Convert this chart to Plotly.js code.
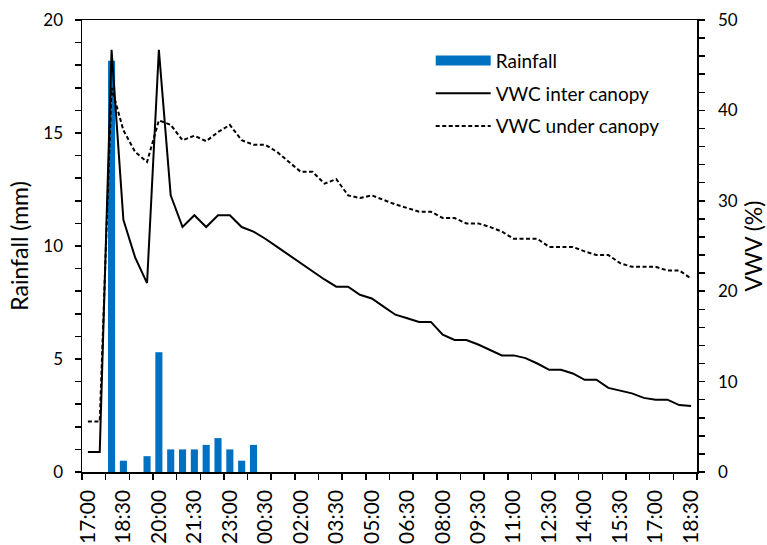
<!DOCTYPE html>
<html>
<head>
<meta charset="utf-8">
<script src="https://cdn.plot.ly/plotly-3.0.1.min.js"></script>
<style>html,body{margin:0;padding:0;background:#fff;}#chart{width:767px;height:545px;}</style>
</head>
<body>
<div id="chart"></div>
<script>
const times = ["17:00","17:30","18:00","18:30","19:00","19:30","20:00","20:30","21:00","21:30","22:00","22:30","23:00","23:30",
  "00:00","00:30","01:00","01:30","02:00","02:30","03:00","03:30","04:00","04:30","05:00","05:30","06:00","06:30",
  "07:00","07:30","08:00","08:30","09:00","09:30","10:00","10:30","11:00","11:30","12:00","12:30","13:00","13:30",
  "14:00","14:30","15:00","15:30","16:00","16:30","17:00","17:30","18:00","18:30"];

const rainfall = [0,0,18.2,0.5,0,0.7,5.3,1.0,1.0,1.0,1.2,1.5,1.0,0.5,1.2,
  0,0,0,0,0,0,0,0,0,0,0,0,0,0,0,0,0,0,0,0,0,0,0,0,0,0,0,0,0,0,0,0,0,0,0,0,0];

const vwcInter = [2.2,2.2,46.7,27.9,23.7,20.9,46.7,30.6,27.1,28.4,27.1,28.4,28.4,27.1,26.6,
  25.8,24.9,24.0,23.1,22.2,21.3,20.5,20.5,19.6,19.2,18.3,17.4,17.0,16.6,16.6,
  15.2,14.6,14.6,14.1,13.5,12.9,12.9,12.6,12.0,11.3,11.3,10.9,10.2,10.2,9.3,
  9.0,8.7,8.2,8.0,8.0,7.4,7.3];

const vwcUnder = [5.6,5.6,42.5,37.8,35.4,34.3,38.9,38.4,36.7,37.2,36.6,37.6,38.4,36.7,36.2,
  36.2,35.4,34.3,33.2,33.2,31.9,32.4,30.6,30.3,30.6,30.1,29.6,29.2,28.8,28.8,
  28.1,28.1,27.5,27.5,27.1,26.6,25.8,25.8,25.8,24.9,24.9,24.9,24.4,24.0,24.0,
  23.1,22.7,22.7,22.7,22.3,22.3,21.4];

// axis tick values (labels shown only on the major ones)
const rainTicks = [0,1,2,3,4,5,6,7,8,9,10,11,12,13,14,15,16,17,18,19,20];
const rainLabels = rainTicks.map(v => (v % 5 === 0 ? String(v) : ''));
const vwcTicks = [0,2,4,6,8,10,12,14,16,18,20,22,24,26,28,30,32,34,36,38,40,42,44,46,48,50];
const vwcLabels = vwcTicks.map(v => (v % 10 === 0 ? String(v) : ''));

const idx = times.map((t, i) => i);
const labelIdx = idx.filter(i => i % 3 === 0);
const labelText = labelIdx.map(i => times[i]);

const FONT = 'Lato, "Open Sans", sans-serif';

const traces = [
  {type: 'bar', x: idx, y: rainfall, name: 'Rainfall', marker: {color: '#0070C0'}, width: 0.6,
   showlegend: false, xaxis: 'x', yaxis: 'y', hoverinfo: 'skip'},
  {type: 'scatter', mode: 'lines', x: [null], y: [null], name: 'Rainfall', legendgroup: 'a',
   line: {color: '#0070C0', width: 10}, xaxis: 'x', yaxis: 'y'},
  {type: 'scatter', mode: 'lines', x: idx, y: vwcInter, name: 'VWC inter canopy', legendgroup: 'b',
   line: {color: '#000000', width: 2}, xaxis: 'x', yaxis: 'y2'},
  {type: 'scatter', mode: 'lines', x: idx, y: vwcUnder, name: 'VWC under canopy', legendgroup: 'c',
   line: {color: '#000000', width: 2, dash: '4px,2.5px'}, xaxis: 'x', yaxis: 'y2'}
];

const layout = {
  width: 767, height: 545,
  margin: {l: 82, r: 70, t: 20, b: 73},
  paper_bgcolor: '#ffffff', plot_bgcolor: '#ffffff',
  font: {family: FONT, color: '#000000', size: 16},
  showlegend: true,
  legend: {x: 0.567, y: 0.952, xanchor: 'left', yanchor: 'top', font: {size: 19, family: FONT},
    itemwidth: 55, traceorder: 'grouped', tracegroupgap: 5, bgcolor: 'rgba(0,0,0,0)'},
  xaxis: {
    range: [-0.5, 51.5], tickmode: 'array', tickvals: labelIdx, ticktext: labelText,
    tickangle: -90, ticks: '', showline: true, linecolor: '#000000', linewidth: 1.5, mirror: true,
    showgrid: false, zeroline: false, tickfont: {size: 21, family: FONT}, ticklabelstandoff: 8,
    minor: {tickmode: 'linear', tick0: -0.5, dtick: 2, ticks: 'outside', ticklen: 6, tickcolor: '#000000', tickwidth: 1.5, showgrid: false}
  },
  yaxis: {
    range: [0, 20], tickmode: 'array', tickvals: rainTicks, ticktext: rainLabels,
    ticks: 'outside', ticklen: 6, tickwidth: 1.5,
    tickcolor: '#000000', showline: true, linecolor: '#000000', linewidth: 1.5,
    showgrid: false, zeroline: false, tickfont: {size: 17, family: FONT}, ticklabelstandoff: 8,
    title: {text: 'Rainfall (mm)', font: {size: 23, family: FONT}, standoff: 8}
  },
  yaxis2: {
    overlaying: 'y', side: 'right', range: [0, 50], tickmode: 'array', tickvals: vwcTicks, ticktext: vwcLabels,
    ticks: 'outside', ticklen: 6, tickwidth: 1.5, tickcolor: '#000000', showline: true,
    linecolor: '#000000', linewidth: 1.5, showgrid: false, zeroline: false,
    tickfont: {size: 17, family: FONT}, ticklabelstandoff: 10,
    title: {text: 'VWV (%)', font: {size: 23, family: FONT}, standoff: 10}
  }
};

Plotly.newPlot('chart', traces, layout, {displayModeBar: false, staticPlot: true});
</script>
</body>
</html>
